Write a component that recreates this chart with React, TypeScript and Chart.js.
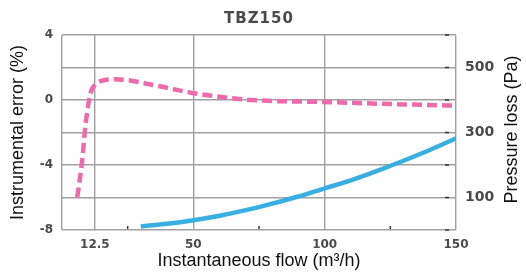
import React, { useEffect, useRef } from "react";
import { Chart, registerables } from "chart.js";
Chart.register(...registerables);

const chartTitle = "TBZ150";
const xTitle = "Instantaneous flow (m³/h)";
const yLeftTitle = "Instrumental error (%)";
const yRightTitle = "Pressure loss (Pa)";

const xGridValues = [0, 12.5, 50, 100, 150];
const xLabelValues = [12.5, 50, 100, 150];
const xMinorTicks = [25, 75, 125];
const yLeftLabels = [4, 0, -4, -8];
const yRightLabels = [100, 300, 500];
const yRightMarks = [0, 100, 200, 300, 400, 500, 600];

const errorFlow = [5.8, 7.7, 8.9, 10.8, 12.5, 15, 19.6, 25, 31, 40, 50, 60, 72, 85, 100, 115, 130, 150];
const errorValues = [-6, -3.7, -1.6, 0.4, 0.92, 1.18, 1.27, 1.22, 1.05, 0.75, 0.42, 0.2, 0.0, -0.08, -0.12, -0.2, -0.27, -0.35];

const lossFlow = [30, 40, 50, 60, 70, 80, 90, 100, 110, 120, 130, 140, 150];
const lossValues = [11, 19, 30, 44, 61, 81, 103, 128, 153, 182, 213, 246, 282];

const extrasPlugin = {
  id: "extras",
  afterDraw(chart: any) {
    const ctx = chart.ctx;
    const area = chart.chartArea;
    const xs = chart.scales.x;
    const yr = chart.scales.yR;
    ctx.save();
    // chart title
    ctx.fillStyle = "#4a4a4a";
    ctx.font = 'bold 15px "DejaVu Sans"';
    try { (ctx as any).letterSpacing = "1px"; } catch (e) {}
    ctx.textAlign = "center";
    ctx.textBaseline = "middle";
    ctx.fillText(chartTitle, (area.left + area.right) / 2, 19);
    try { (ctx as any).letterSpacing = "0px"; } catch (e) {}
    // right axis title
    ctx.save();
    ctx.translate(512, (area.top + area.bottom) / 2 - 3);
    ctx.rotate(-Math.PI / 2);
    ctx.fillStyle = "#111";
    ctx.font = '18px "Liberation Sans"';
    ctx.textAlign = "center";
    ctx.textBaseline = "middle";
    ctx.fillText(yRightTitle, 0, 0);
    ctx.restore();
    // inner tick marks
    ctx.strokeStyle = "#333";
    ctx.lineWidth = 1.5;
    yRightMarks.forEach((v) => {
      const y = yr.getPixelForValue(v);
      ctx.beginPath();
      ctx.moveTo(area.right - 11, y);
      ctx.lineTo(area.right - 7, y);
      ctx.stroke();
    });
    xMinorTicks.forEach((v) => {
      const x = xs.getPixelForValue(v);
      ctx.beginPath();
      ctx.moveTo(x, area.bottom - 4);
      ctx.lineTo(x, area.bottom - 1);
      ctx.stroke();
    });
    ctx.restore();
  },
};

export default function App() {
  const ref = useRef<HTMLCanvasElement>(null);
  useEffect(() => {
    if (!ref.current) return;
    const gridColor = "#a0a0a0";
    const chart = new Chart(ref.current, {
      type: "line",
      data: {
        datasets: [
          {
            label: "Instrumental error",
            data: errorFlow.map((x, i) => ({ x, y: errorValues[i] })),
            yAxisID: "yL",
            borderColor: "#ee6aaa",
            borderWidth: 4.5,
            borderDash: [10, 5],
            pointRadius: 0,
            cubicInterpolationMode: "monotone",
            fill: false,
          },
          {
            label: "Pressure loss",
            data: lossFlow.map((x, i) => ({ x, y: lossValues[i] })),
            yAxisID: "yR",
            borderColor: "#38afe0",
            borderWidth: 4.5,
            pointRadius: 0,
            cubicInterpolationMode: "monotone",
            fill: false,
          },
        ],
      },
      options: {
        animation: false,
        responsive: false,
        devicePixelRatio: 1,
        layout: { padding: { top: 35, left: 0, right: 0, bottom: 0 } },
        plugins: { legend: { display: false }, tooltip: { enabled: false }, title: { display: false } },
        scales: {
          x: {
            type: "linear",
            min: 0,
            max: 150,
            afterBuildTicks: (s: any) => {
              s.ticks = xGridValues.map((v) => ({ value: v }));
            },
            afterFit: (s: any) => {
              s.height = 45;
            },
            ticks: {
              autoSkip: false,
              maxRotation: 0,
              padding: 8,
              color: "#4a4a4a",
              font: { family: "DejaVu Sans", size: 12, weight: "bold" },
              callback: (v: any) => (xLabelValues.includes(Number(v)) ? String(v) : ""),
            },
            grid: { color: gridColor, lineWidth: 1.4, drawTicks: false },
            border: { display: false },
            title: {
              display: true,
              text: xTitle,
              color: "#111",
              font: { family: "Liberation Sans", size: 18 },
              padding: { top: 0, bottom: 3 },
            },
          },
          yL: {
            type: "linear",
            position: "left",
            min: -8,
            max: 4,
            afterFit: (s: any) => {
              s.width = 62;
            },
            ticks: {
              stepSize: 2,
              padding: 9,
              color: "#4a4a4a",
              font: { family: "DejaVu Sans", size: 12, weight: "bold" },
              callback: (v: any) => (yLeftLabels.includes(Number(v)) ? String(v) : ""),
            },
            grid: { color: gridColor, lineWidth: 1.4, drawTicks: false },
            border: { display: false },
            title: {
              display: true,
              text: yLeftTitle,
              color: "#111",
              font: { family: "Liberation Sans", size: 18 },
              padding: { top: 7, bottom: 0 },
            },
          },
          yR: {
            type: "linear",
            position: "right",
            min: 0,
            max: 600,
            afterFit: (s: any) => {
              s.width = 70;
            },
            ticks: {
              stepSize: 100,
              padding: 9,
              color: "#4a4a4a",
              font: { family: "DejaVu Sans", size: 14, weight: "bold" },
              callback: (v: any) => (yRightLabels.includes(Number(v)) ? String(v) : ""),
            },
            grid: { display: false, drawTicks: false },
            border: { display: false },
          },
        },
      },
      plugins: [extrasPlugin],
    } as any);
    return () => chart.destroy();
  }, []);
  return (
    <div style={{ position: "fixed", left: 0, top: 0, width: 526, height: 275, background: "#fff" }}>
      <canvas ref={ref} width={526} height={275} />
    </div>
  );
}
